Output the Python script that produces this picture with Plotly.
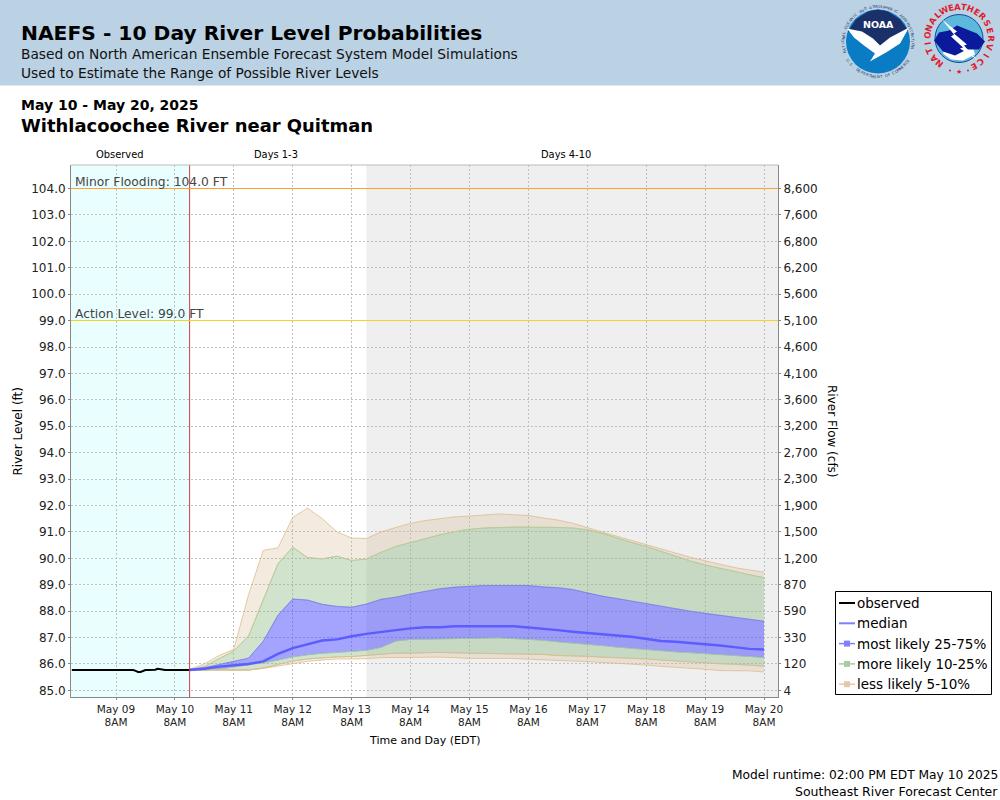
import math
from datetime import datetime, timedelta
import plotly.graph_objects as go

# plot area in page pixels, used to place the page furniture around it
LEFT, RIGHT, TOP, BOTTOM = 71, 778, 165, 697

stage_ticks = [85, 86, 87, 88, 89, 90, 91, 92, 93, 94, 95, 96, 97, 98, 99, 100, 101, 102, 103, 104]
stage_labels = ["85.0", "86.0", "87.0", "88.0", "89.0", "90.0", "91.0", "92.0", "93.0", "94.0",
                "95.0", "96.0", "97.0", "98.0", "99.0", "100.0", "101.0", "102.0", "103.0", "104.0"]
flow_labels = ["4", "120", "330", "590", "870", "1,200", "1,500", "1,900", "2,300", "2,700",
               "3,200", "3,600", "4,100", "4,600", "5,100", "5,600", "6,200", "6,800", "7,600", "8,600"]

day_ticks = ["2025-05-09 08:00", "2025-05-10 08:00", "2025-05-11 08:00", "2025-05-12 08:00",
             "2025-05-13 08:00", "2025-05-14 08:00", "2025-05-15 08:00", "2025-05-16 08:00",
             "2025-05-17 08:00", "2025-05-18 08:00", "2025-05-19 08:00", "2025-05-20 08:00"]
day_labels = ["May 09<br>8AM", "May 10<br>8AM", "May 11<br>8AM", "May 12<br>8AM", "May 13<br>8AM", "May 14<br>8AM",
              "May 15<br>8AM", "May 16<br>8AM", "May 17<br>8AM", "May 18<br>8AM", "May 19<br>8AM", "May 20<br>8AM"]

x_range = ["2025-05-08 13:40", "2025-05-20 13:42"]
now_time = "2025-05-10 14:00"
days4_start = "2025-05-13 14:00"

# hourly observations, May 08 14:00 to May 10 14:00
observed = [85.77, 85.77, 85.77, 85.77, 85.77, 85.77, 85.77, 85.77, 85.77, 85.77, 85.77, 85.77,
            85.77, 85.77, 85.77, 85.77, 85.77, 85.77, 85.77, 85.77, 85.77, 85.77, 85.77, 85.77,
            85.77, 85.77, 85.74, 85.70, 85.70, 85.74, 85.77, 85.77, 85.77, 85.77, 85.78, 85.82,
            85.80, 85.77, 85.77, 85.77, 85.77, 85.77, 85.77, 85.77, 85.77, 85.77, 85.77, 85.77, 85.77]

# six hourly forecast percentiles, May 10 14:00 to May 20 08:00
p95 = [85.80, 86.00, 86.32, 86.56, 88.62, 90.30, 90.40, 91.55, 91.90, 91.50, 91.00, 90.77, 90.75, 91.00,
       91.17, 91.32, 91.43, 91.50, 91.57, 91.60, 91.64, 91.68, 91.65, 91.62, 91.53, 91.45, 91.33, 91.15,
       91.00, 90.84, 90.68, 90.50, 90.35, 90.19, 90.04, 89.91, 89.78, 89.65, 89.56, 89.48]
p90 = [85.80, 85.90, 86.20, 86.49, 87.06, 88.45, 89.80, 90.42, 90.03, 89.98, 90.08, 89.92, 89.97, 90.23,
       90.45, 90.60, 90.75, 90.89, 91.01, 91.10, 91.15, 91.17, 91.18, 91.18, 91.18, 91.17, 91.15, 91.08,
       90.95, 90.77, 90.60, 90.45, 90.26, 90.09, 89.90, 89.75, 89.62, 89.50, 89.38, 89.27]
p75 = [85.80, 85.86, 85.98, 86.10, 86.22, 86.86, 87.85, 88.46, 88.42, 88.26, 88.18, 88.15, 88.27, 88.45,
       88.53, 88.65, 88.76, 88.85, 88.91, 88.94, 88.97, 88.97, 88.97, 88.97, 88.92, 88.89, 88.82, 88.70,
       88.57, 88.48, 88.38, 88.29, 88.18, 88.09, 88.00, 87.92, 87.85, 87.77, 87.70, 87.62]
median = [85.77, 85.82, 85.90, 85.96, 86.00, 86.10, 86.38, 86.60, 86.75, 86.89, 86.93, 87.05, 87.14, 87.20,
          87.28, 87.35, 87.39, 87.39, 87.43, 87.43, 87.43, 87.43, 87.43, 87.38, 87.34, 87.28, 87.22, 87.18,
          87.14, 87.08, 87.03, 86.95, 86.87, 86.84, 86.80, 86.76, 86.70, 86.64, 86.57, 86.55]
p25 = [85.77, 85.77, 85.81, 85.89, 85.96, 86.05, 86.15, 86.27, 86.35, 86.41, 86.44, 86.47, 86.52, 86.63,
       86.87, 86.93, 86.95, 86.95, 86.96, 86.97, 86.97, 86.99, 86.96, 86.94, 86.90, 86.84, 86.80, 86.76,
       86.70, 86.64, 86.59, 86.54, 86.50, 86.46, 86.43, 86.39, 86.35, 86.31, 86.29, 86.25]
p10 = [85.77, 85.77, 85.77, 85.77, 85.77, 85.85, 85.99, 86.11, 86.19, 86.23, 86.27, 86.28, 86.33, 86.37,
       86.41, 86.41, 86.42, 86.44, 86.42, 86.41, 86.41, 86.40, 86.40, 86.37, 86.36, 86.32, 86.31, 86.29,
       86.26, 86.24, 86.21, 86.19, 86.15, 86.11, 86.07, 86.05, 86.01, 85.99, 85.95, 85.92]
p05 = [85.77, 85.77, 85.77, 85.77, 85.77, 85.83, 85.92, 86.02, 86.10, 86.15, 86.19, 86.19, 86.20, 86.24,
       86.25, 86.25, 86.26, 86.26, 86.24, 86.21, 86.21, 86.22, 86.21, 86.18, 86.15, 86.12, 86.11, 86.09,
       86.06, 86.04, 86.00, 85.96, 85.91, 85.88, 85.84, 85.80, 85.75, 85.74, 85.74, 85.70]

obs_times = [datetime(2025, 5, 8, 14) + timedelta(hours=i) for i in range(len(observed))]
fc_times = [datetime(2025, 5, 10, 14) + timedelta(hours=6 * i) for i in range(len(median))]

FONT = "DejaVu Sans"
HEADER = "#bad2e4"
TAN_FILL, TAN_LINE = "rgba(210,180,140,0.27)", "rgba(222,184,135,0.75)"
GREEN_FILL, GREEN_LINE = "rgba(140,185,130,0.40)", "rgba(170,210,160,0.70)"
BLUE_FILL, BLUE_LINE = "rgba(70,70,255,0.49)", "rgba(110,110,255,0.65)"


def px(x):
    return (x - LEFT) / (RIGHT - LEFT)


def py(y):
    return (BOTTOM - y) / (BOTTOM - TOP)


def text(fig, x, y, s, size, anchor="left", color="#000000", bold=False, angle=0, family=FONT):
    # annotations carry a 2px pad, take it back so x is where the ink starts
    pad = {"left": -2, "right": 2, "center": 0}[anchor]
    if bold:
        s = "<b>" + s + "</b>"
    fig.add_annotation(xref="paper", yref="paper", x=px(x + pad), y=py(y), text=s, showarrow=False,
                       xanchor=anchor, yanchor="middle", textangle=angle,
                       font=dict(family=family, size=size, color=color))


def rect(fig, x0, y0, x1, y1, fill, line=None, width=1, layer="above"):
    fig.add_shape(type="rect", xref="paper", yref="paper", x0=px(x0), y0=py(y0), x1=px(x1), y1=py(y1),
                  fillcolor=fill, line=dict(color=line or fill, width=width if line else 0), layer=layer)


def circle(fig, cx, cy, r, fill, line=None, width=1):
    fig.add_shape(type="circle", xref="paper", yref="paper", x0=px(cx - r), y0=py(cy - r), x1=px(cx + r),
                  y1=py(cy + r), fillcolor=fill, line=dict(color=line or fill, width=width if line else 0))


def poly(fig, points, fill, line=None, width=1):
    path = "M " + " L ".join("%.4f,%.4f" % (px(a), py(b)) for a, b in points) + " Z"
    fig.add_shape(type="path", xref="paper", yref="paper", path=path, fillcolor=fill,
                  line=dict(color=line or fill, width=width if line else 0))


def ring_text(fig, cx, cy, r, s, start, end, size, color, bold=False, flip=False):
    # letters spaced along an arc, angles in degrees clockwise from straight up
    for i, ch in enumerate(s):
        if ch == " ":
            continue
        a = start + (end - start) * i / (len(s) - 1)
        ar = math.radians(a)
        rot = a - 180 if flip else a
        text(fig, cx + r * math.sin(ar), cy - r * math.cos(ar), ch, size, "center", color, bold, rot)


def band(fig, upper, lower, fill, line):
    fig.add_trace(go.Scatter(x=fc_times, y=lower, mode="lines", line=dict(color=line, width=1),
                             showlegend=False, hoverinfo="skip"))
    fig.add_trace(go.Scatter(x=fc_times, y=upper, mode="lines", line=dict(color=line, width=1),
                             fill="tonexty", fillcolor=fill, showlegend=False, hoverinfo="skip"))


fig = go.Figure()

band(fig, p95, p90, TAN_FILL, TAN_LINE)
band(fig, p90, p75, GREEN_FILL, GREEN_LINE)
band(fig, p75, p25, BLUE_FILL, BLUE_LINE)
band(fig, p25, p10, GREEN_FILL, GREEN_LINE)
band(fig, p10, p05, TAN_FILL, TAN_LINE)

fig.add_trace(go.Scatter(x=fc_times, y=median, mode="lines", line=dict(color="#5c5cff", width=2.4),
                         showlegend=False))
fig.add_trace(go.Scatter(x=obs_times, y=observed, mode="lines", line=dict(color="#000000", width=2),
                         showlegend=False))
# flow axis only needs something attached to it
fig.add_trace(go.Scatter(x=[fc_times[0]], y=[85], yaxis="y2", mode="markers", marker=dict(opacity=0),
                         showlegend=False, hoverinfo="skip"))

# background periods
fig.add_shape(type="rect", xref="x", yref="paper", x0=x_range[0], x1=now_time, y0=0, y1=1,
              fillcolor="#e9ffff", line_width=0, layer="below")
fig.add_shape(type="rect", xref="x", yref="paper", x0=days4_start, x1=x_range[1], y0=0, y1=1,
              fillcolor="#efefef", line_width=0, layer="below")
fig.add_shape(type="line", xref="x", yref="paper", x0=now_time, x1=now_time, y0=0, y1=1,
              line=dict(color="#d23c3c", width=1))

# flood thresholds
fig.add_shape(type="line", xref="paper", yref="y", x0=0, x1=1, y0=104, y1=104, line=dict(color="#ffa030", width=1))
fig.add_shape(type="line", xref="paper", yref="y", x0=0, x1=1, y0=99, y1=99, line=dict(color="#f5d21e", width=1))
text(fig, 75, 182, "Minor Flooding: 104.0 FT", 12.3, color="#444444")
text(fig, 75, 314, "Action Level: 99.0 FT", 12.3, color="#444444")

# top edge of the plot is lighter than the axes
fig.add_shape(type="line", xref="paper", yref="paper", x0=0, x1=1, y0=1, y1=1, line=dict(color="#bbbbbb", width=1))

# header band
rect(fig, 0, 0, 1000, 85.5, HEADER, layer="below")
text(fig, 21, 33, "NAEFS - 10 Day River Level Probabilities", 20.25, bold=True)
text(fig, 21, 54, "Based on North American Ensemble Forecast System Model Simulations", 13.75, color="#111111")
text(fig, 21, 73, "Used to Estimate the Range of Possible River Levels", 13.75, color="#111111")

text(fig, 21, 105, "May 10 - May 20, 2025", 14, bold=True)
text(fig, 21, 125.5, "Withlacoochee River near Quitman", 17.95, bold=True)

text(fig, 120, 154, "Observed", 9.9, "center")
text(fig, 276, 154, "Days 1-3", 9.9, "center")
text(fig, 566, 154, "Days 4-10", 9.9, "center")

text(fig, 17, 431.5, "River Level (ft)", 12, "center", angle=-90)
text(fig, 832, 431, "River Flow (cfs)", 12, "center", angle=90)
text(fig, 425, 740, "Time and Day (EDT)", 11, "center")

text(fig, 998, 775, "Model runtime: 02:00 PM EDT May 10 2025", 12.25, "right")
text(fig, 998, 791, "Southeast River Forecast Center", 12.5, "right")

# legend, drawn by hand because its keys are shorter than plotly allows
rect(fig, 835.5, 591.5, 991.5, 694.5, "#ffffff", "#000000", 1)
legend_rows = [("observed", "#000000", None), ("median", "#8080ff", None),
               ("most likely 25-75%", "#9c9cfb", "#8080ff"), ("more likely 10-25%", "#b8d6b0", "#a8cca0"),
               ("less likely 5-10%", "#eadccb", "#e2c9ac")]
for i, (name, col, box) in enumerate(legend_rows):
    ky = 603 + i * 20.3
    fig.add_shape(type="line", xref="paper", yref="paper", x0=px(839), x1=px(855), y0=py(ky), y1=py(ky),
                  line=dict(color=col if box is None else box, width=2 if box is None else 1.5))
    if box:
        rect(fig, 844, ky - 3, 850, ky + 3, box)
    text(fig, 857, ky, name, 13.5)

# NOAA logo
ncx, ncy, nr = 878, 41.5, 32
circle(fig, ncx, ncy, nr, "#0a7cc4")
poly(fig, [(ncx - 30, ncy - 10), (ncx - 22, ncy - 22), (ncx - 10, ncy - 30), (ncx, ncy - 32), (ncx + 10, ncy - 30),
           (ncx + 22, ncy - 22), (ncx + 30, ncy - 11), (ncx + 12, ncy - 3), (ncx + 2, ncy + 4), (ncx - 6, ncy - 2),
           (ncx - 16, ncy - 8)], "#1a3068")
poly(fig, [(ncx - 31, ncy - 13), (ncx - 16, ncy - 10), (ncx - 5, ncy - 3), (ncx + 2, ncy + 4), (ncx + 12, ncy - 4),
           (ncx + 31, ncy - 14), (ncx + 22, ncy + 2), (ncx + 8, ncy + 11), (ncx - 8, ncy + 20), (ncx - 3, ncy + 12),
           (ncx - 14, ncy + 4), (ncx - 24, ncy - 4)], "#ffffff")
text(fig, ncx, ncy - 17, "NOAA", 9.5, "center", "#ffffff", True)
ring_text(fig, ncx, ncy, 35, "NATIONAL OCEANIC AND ATMOSPHERIC ADMINISTRATION", -107, 100, 3.8, "#28386a")
ring_text(fig, ncx, ncy, 35, "U.S. DEPARTMENT OF COMMERCE", 238, 122, 3.8, "#28386a", flip=True)

# NWS logo
wcx, wcy = 959, 38.5
circle(fig, wcx, wcy, 24, "#5cb8dc", "#16489a", 1)
ring_text(fig, wcx, wcy, 32, "NATIONAL", -142, -42, 8.5, "#e01c2c", True)
ring_text(fig, wcx, wcy, 32, "WEATHER", -27, 46, 8.5, "#e01c2c", True)
ring_text(fig, wcx, wcy, 32, "SERVICE", 61, 152, 8.5, "#e01c2c", True)
text(fig, wcx, wcy + 33, "★", 7, "center", "#e01c2c")
circle(fig, wcx - 9, wcy + 32, 1, "#e01c2c")
circle(fig, wcx + 9, wcy + 32, 1, "#e01c2c")
poly(fig, [(wcx - 14, wcy + 8), (wcx + 14, wcy + 8), (wcx + 16, wcy + 16), (wcx + 4, wcy + 22), (wcx - 8, wcy + 21),
           (wcx - 16, wcy + 15)], "#ffffff")
poly(fig, [(wcx - 25, wcy + 2), (wcx - 20, wcy - 6), (wcx - 10, wcy - 8), (wcx - 2, wcy - 13), (wcx + 8, wcy - 9),
           (wcx + 18, wcy - 5), (wcx + 26, wcy + 3), (wcx + 20, wcy + 11), (wcx + 8, wcy + 11), (wcx - 4, wcy + 17),
           (wcx - 16, wcy + 13)], "#0a1a9a")
poly(fig, [(wcx - 17, wcy - 19), (wcx - 2, wcy - 7), (wcx - 5, wcy - 5), (wcx + 8, wcy + 6), (wcx + 5, wcy + 7),
           (wcx + 18, wcy + 21), (wcx + 1, wcy + 10), (wcx + 4, wcy + 9), (wcx - 8, wcy - 2), (wcx - 5, wcy - 4)], "#ffffff")

axis_font = dict(family=FONT, size=12, color="#222222")
fig.update_layout(
    width=1000,
    height=800,
    margin=dict(l=LEFT, r=1000 - RIGHT, t=TOP, b=800 - BOTTOM, autoexpand=False),
    paper_bgcolor="#ffffff",
    plot_bgcolor="#ffffff",
    showlegend=False,
    xaxis=dict(type="date", range=x_range, tickmode="array", tickvals=day_ticks, ticktext=day_labels,
               showgrid=True, gridcolor="#c0c0c0", griddash="2px,2px", gridwidth=1, showline=True, linecolor="#888888",
               ticks="outside", ticklen=2, tickcolor="#888888", tickfont=dict(family=FONT, size=10.5, color="#222222"),
               zeroline=False),
    yaxis=dict(range=[84.75, 104.89], tickmode="array", tickvals=stage_ticks, ticktext=stage_labels,
               showgrid=True, gridcolor="#c0c0c0", griddash="2px,2px", gridwidth=1, showline=True, linecolor="#888888",
               ticks="outside", ticklen=2, tickcolor="#888888", tickfont=axis_font, zeroline=False),
    yaxis2=dict(range=[84.75, 104.89], overlaying="y", side="right", tickmode="array", tickvals=stage_ticks,
                ticktext=flow_labels, showgrid=False, showline=True, linecolor="#888888", ticks="outside", ticklen=2,
                tickcolor="#888888", tickfont=axis_font, zeroline=False),
)

fig.write_html("out.html", config=dict(displayModeBar=False), post_script="document.body.style.margin='0';")
